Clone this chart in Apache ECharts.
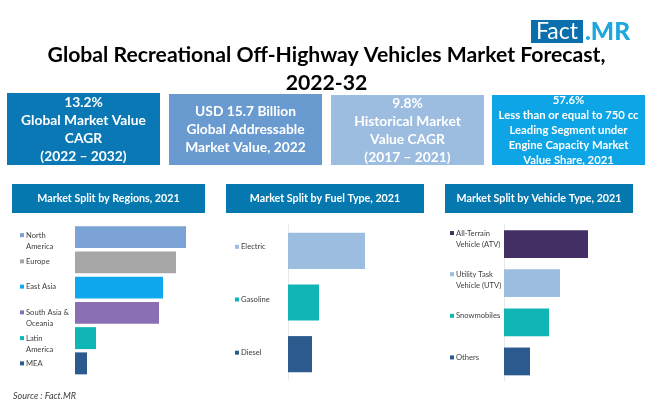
<!DOCTYPE html>
<html lang="en">

<head>
  <meta charset="UTF-8">
  <script src="https://cdn.jsdelivr.net/npm/echarts@6/dist/echarts.min.js"></script>
  <title>Recreational Off-Highway Vehicles Market</title>
  <style>
    html, body { margin: 0; padding: 0; background: #fff; }
    .container { width: 650px; height: 412px; }
  </style>
</head>

<body>
  <div class="container"></div>

  <script>
    const regionNames = ["North\nAmerica", "Europe", "East Asia", "South Asia &\nOceania", "Latin\nAmerica", "MEA"];
    const regionValues = [111, 101, 88, 84, 21, 12];
    const regionColors = ["#7ba3d6", "#a6a6a6", "#0fa8ef", "#8a6fb5", "#10b5b5", "#2b5a8f"];

    const fuelNames = ["Electric", "Gasoline", "Diesel"];
    const fuelValues = [77, 31, 24];
    const fuelColors = ["#9dbde0", "#10b5b5", "#2b5a8f"];

    const vehicleNames = ["All-Terrain\nVehicle (ATV)", "Utility Task\nVehicle (UTV)", "Snowmobiles", "Others"];
    const vehicleValues = [84, 56, 45, 26];
    const vehicleColors = ["#432f63", "#9dbde0", "#10b5b5", "#2b5a8f"];

    const titleText = "Global Recreational Off-Highway Vehicles Market Forecast,\n2022-32";
    const statTexts = [
      "13.2%\nGlobal Market Value\nCAGR\n(2022 – 2032)",
      "USD 15.7 Billion\nGlobal Addressable\nMarket Value, 2022",
      "9.8%\nHistorical Market\nValue CAGR\n(2017 – 2021)",
      "57.6%\nLess than or equal to 750 cc\nLeading Segment under\nEngine Capacity Market\nValue Share, 2021",
    ];
    const bannerTexts = ["Market Split by Regions, 2021", "Market Split by Fuel Type, 2021", "Market Split by Vehicle Type, 2021"];

    const FONT = "Lato";

    // coloured box with centred text on top
    const box = (x, y, w, h, color, text, fontSize, lineHeight) => [
      { type: "rect", shape: { x, y, width: w, height: h }, style: { fill: color } },
      {
        type: "text", x: x + w / 2, y: y + h / 2 + 0.5,
        style: {
          text, fill: "#fff", font: `bold ${fontSize}px ${FONT}`, lineHeight,
          align: "center", verticalAlign: "middle",
        },
      },
    ];

    const statBoxes = [
      [7, 93, 153, 72, "#0a78b4", 13.8, 18],
      [169, 94, 153, 71, "#6a9bd0", 13.8, 18],
      [331, 95, 153, 70, "#9cbde0", 13.8, 18],
      [492, 95, 153, 70, "#0ea5e6", 11.3, 15],
    ];
    const banners = [
      [12, 184, 193, 29],
      [226, 184, 198, 29],
      [445, 184, 188, 29],
    ];

    const graphics = [];
    statBoxes.forEach((b, i) => graphics.push(...box(b[0], b[1], b[2], b[3], b[4], statTexts[i], b[5], b[6])));
    banners.forEach((b, i) => graphics.push(...box(b[0], b[1], b[2], b[3], "#0678b0", bannerTexts[i], 10.7, 14)));

    // logo
    graphics.push({ type: "rect", shape: { x: 531, y: 20, width: 52, height: 23 }, style: { fill: "#0b6fad" } });
    graphics.push({
      type: "text", x: 557, y: 32,
      style: { text: "Fact", fill: "#fff", font: `23px ${FONT}`, align: "center", verticalAlign: "middle" },
    });
    graphics.push({
      type: "text", x: 585, y: 32,
      style: { text: ".MR", fill: "#1ea7dc", font: `900 24.5px ${FONT}`, align: "left", verticalAlign: "middle" },
    });
    graphics.push({
      type: "text", x: 13, y: 396,
      style: { text: "Source : Fact.MR", fill: "#404040", font: `italic 9px ${FONT}`, verticalAlign: "middle" },
    });

    // shift: how far each label sits from its bar's centre
    const panels = [
      { names: regionNames, values: regionValues, colors: regionColors, left: 75, top: 224.5, height: 151.5, margin: 55, gap: "13%", shift: [3, -1, -1, 4.5, 5, 0] },
      { names: fuelNames, values: fuelValues, colors: fuelColors, left: 288, top: 225, height: 155, margin: 53, gap: "30%", shift: [-4, -3, -1.5] },
      { names: vehicleNames, values: vehicleValues, colors: vehicleColors, left: 504, top: 224.5, height: 156.5, margin: 54, gap: "29%", shift: [-6, -4, -6.5, -4] },
    ];

    const richFor = (p) => {
      const rich = { t: { fontSize: 7.6, color: "#404040", fontFamily: FONT, lineHeight: 10 }, s: { width: 6, height: 10, lineHeight: 10 }, g: { width: 2 } };
      p.colors.forEach((c, k) => {
        rich["m" + k] = { width: 4, height: 4, backgroundColor: c };
        // blank line above or below the label, which moves it off the bar's centre
        const h = Math.abs(p.shift[k]) * 2;
        rich["v" + k] = { width: 1, height: h, lineHeight: h };
      });
      return rich;
    };

    const chart = echarts.init(document.querySelector(".container"));
    const options = {
      animation: false,
      title: {
        text: titleText,
        left: 321.5,
        top: 36,
        textAlign: "center",
        textStyle: { fontFamily: FONT, fontSize: 21.2, fontWeight: "bold", color: "#000", lineHeight: 28 },
      },
      graphic: graphics,
      grid: panels.map((p) => ({ left: p.left, top: p.top, width: 130, height: p.height, outerBoundsMode: "none" })),
      xAxis: panels.map((p, i) => ({ type: "value", gridIndex: i, min: 0, max: 130, show: false })),
      yAxis: panels.map((p, i) => ({
        type: "category",
        gridIndex: i,
        inverse: true,
        data: p.names,
        axisLine: { show: i > 0, lineStyle: { color: "#e8e8e8" } },
        axisTick: { show: false },
        axisLabel: {
          align: "left",
          margin: p.margin,
          interval: 0,
          formatter: (value, index) => {
            const lines = value.split("\n");
            let text = `{m${index}|}{g|}{t|${lines[0]}}`;
            if (lines.length > 1) text += `\n{s|}{t|${lines[1]}}`;
            const shift = p.shift[index];
            if (shift > 0) return `{v${index}|}\n${text}`;
            if (shift < 0) return `${text}\n{v${index}|}`;
            return text;
          },
          rich: richFor(p),
        },
      })),
      series: panels.map((p, i) => ({
        type: "bar",
        xAxisIndex: i,
        yAxisIndex: i,
        barCategoryGap: p.gap,
        data: p.values.map((v, k) => ({ value: v, itemStyle: { color: p.colors[k] } })),
        silent: true,
      })),
    };

    chart.setOption(options);
  </script>
</body>

</html>
